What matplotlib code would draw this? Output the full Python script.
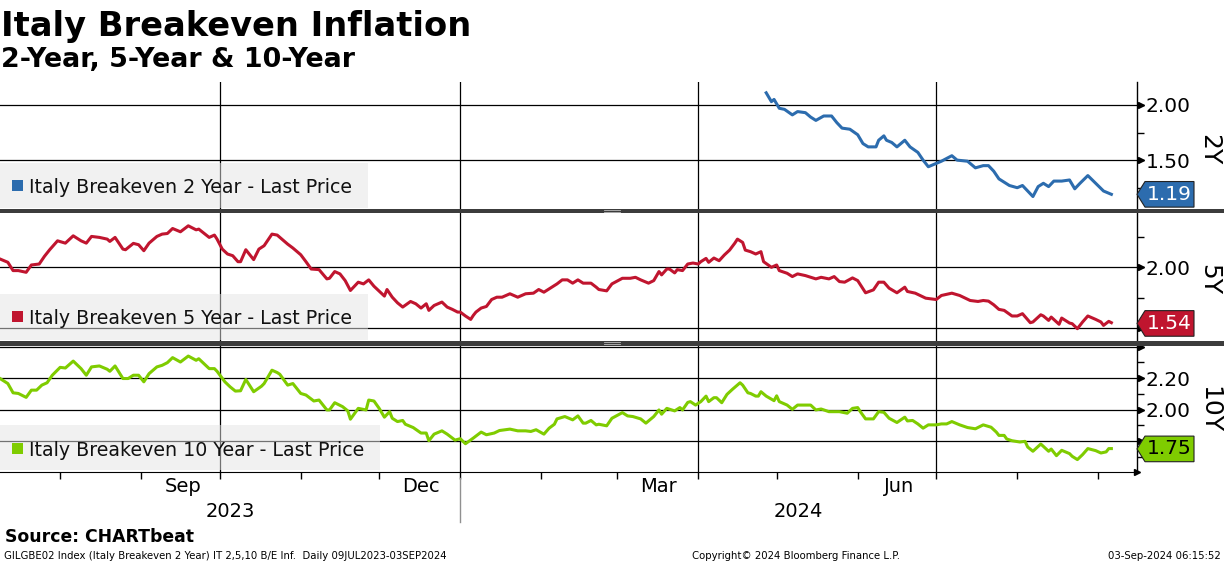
import matplotlib
matplotlib.use('Agg')
import matplotlib.pyplot as plt
import matplotlib.dates as mdates
import matplotlib.ticker as mticker
from matplotlib.transforms import offset_copy
from matplotlib.patches import Rectangle, Polygon
import pandas as pd

plt.rcParams['font.family'] = ['DejaVu Sans']

# day counts from the first observation, 9 Jul 2023
start = pd.Timestamp('2023-07-09')

days_2y = [293, 295, 296, 298, 300, 303, 305, 308, 310, 312, 315, 318, 320, 322, 325,
           328, 330, 332, 335, 336, 338, 339, 341, 343, 346, 348, 351, 353, 355, 357,
           360, 364, 366, 370, 373, 376, 378, 380, 382, 386, 389, 391, 393, 395, 397,
           399, 401, 403, 406, 409, 411, 413, 416, 419, 422, 425]
be_2y = [2.11, 2.03, 2.05, 1.97, 1.96, 1.91, 1.94, 1.93, 1.89, 1.86, 1.90, 1.90, 1.84, 1.79, 1.78,
         1.73, 1.65, 1.62, 1.62, 1.68, 1.72, 1.68, 1.66, 1.62, 1.68, 1.62, 1.57, 1.50, 1.44, 1.46,
         1.49, 1.54, 1.50, 1.49, 1.43, 1.45, 1.45, 1.40, 1.33, 1.27, 1.25, 1.27, 1.22, 1.17, 1.26,
         1.29, 1.26, 1.31, 1.31, 1.32, 1.24, 1.29, 1.36, 1.29, 1.22, 1.19]

days_5y = [0, 3, 5, 7, 10, 12, 15, 17, 19, 22, 25, 28, 31, 33, 35, 38, 41, 42, 44, 47,
           48, 51, 53, 55, 57, 60, 62, 64, 66, 69, 72, 75, 76, 80, 82, 83, 85, 87, 89, 91,
           92, 94, 97, 99, 101, 104, 106, 110, 112, 115, 117, 119, 122, 125, 126, 128, 130, 132, 134, 137,
           139, 141, 143, 145, 147, 148, 150, 152, 154, 157, 159, 161, 163, 164, 166, 169, 171, 173, 175, 176,
           178, 180, 181, 182, 184, 186, 188, 190, 192, 195, 198, 201, 204, 206, 208, 210, 213, 215, 217, 219,
           221, 223, 226, 228, 229, 232, 234, 238, 241, 243, 245, 248, 250, 252, 253, 255, 256, 258, 259, 261,
           263, 265, 267, 268, 270, 271, 273, 275, 277, 279, 281, 282, 284, 285, 287, 289, 291, 292, 295, 297,
           298, 301, 303, 305, 308, 312, 314, 317, 319, 321, 323, 326, 328, 331, 334, 336, 338, 340, 343, 346,
           347, 350, 354, 358, 360, 364, 367, 371, 374, 376, 378, 380, 382, 384, 387, 389, 391, 394, 395, 398,
           399, 401, 402, 405, 406, 409, 410, 412, 414, 416, 419, 421, 422, 424, 425]
be_5y = [2.068, 2.041, 1.973, 1.973, 1.959, 2.019, 2.027, 2.090, 2.144, 2.217,
         2.198, 2.258, 2.217, 2.198, 2.253, 2.245, 2.231, 2.212, 2.245, 2.149,
         2.144, 2.196, 2.185, 2.136, 2.198, 2.253, 2.272, 2.277, 2.318, 2.291,
         2.340, 2.307, 2.313, 2.245, 2.264, 2.231, 2.149, 2.109, 2.095, 2.046,
         2.046, 2.144, 2.063, 2.149, 2.177, 2.272, 2.264, 2.190, 2.158, 2.103,
         2.046, 1.986, 1.981, 1.905, 1.910, 1.965, 1.946, 1.891, 1.810, 1.878,
         1.864, 1.897, 1.845, 1.804, 1.764, 1.818, 1.755, 1.709, 1.674, 1.720,
         1.701, 1.666, 1.701, 1.647, 1.687, 1.715, 1.674, 1.655, 1.633, 1.633,
         1.601, 1.573, 1.606, 1.633, 1.666, 1.679, 1.736, 1.755, 1.755, 1.783,
         1.755, 1.783, 1.788, 1.818, 1.796, 1.823, 1.864, 1.897, 1.897, 1.870,
         1.897, 1.870, 1.870, 1.837, 1.818, 1.807, 1.864, 1.910, 1.910, 1.918,
         1.897, 1.870, 1.891, 1.965, 1.938, 1.986, 1.986, 1.954, 1.981, 1.973,
         2.027, 2.035, 2.027, 2.046, 2.073, 2.041, 2.076, 2.054, 2.101, 2.141,
         2.198, 2.231, 2.204, 2.141, 2.128, 2.109, 2.128, 2.046, 2.000, 2.019,
         1.973, 1.951, 1.924, 1.946, 1.932, 1.905, 1.918, 1.905, 1.924, 1.883,
         1.878, 1.913, 1.891, 1.791, 1.815, 1.878, 1.878, 1.829, 1.791, 1.837,
         1.802, 1.788, 1.747, 1.736, 1.769, 1.788, 1.769, 1.728, 1.720, 1.728,
         1.723, 1.693, 1.655, 1.647, 1.601, 1.601, 1.620, 1.546, 1.552, 1.611,
         1.601, 1.565, 1.592, 1.533, 1.584, 1.543, 1.538, 1.497, 1.552, 1.601,
         1.573, 1.552, 1.524, 1.557, 1.546]

days_10y = [0, 3, 5, 7, 10, 12, 14, 16, 18, 20, 23, 25, 28, 31, 33, 35, 38, 41, 42, 44,
            47, 49, 51, 53, 55, 57, 60, 62, 64, 66, 69, 72, 75, 76, 80, 82, 83, 86, 88, 90,
            92, 94, 97, 100, 101, 104, 106, 107, 110, 112, 115, 117, 120, 122, 125, 126, 128, 131, 133, 134,
            137, 140, 141, 143, 145, 147, 149, 150, 152, 154, 155, 158, 161, 163, 164, 166, 169, 171, 174, 176,
            178, 181, 184, 186, 189, 191, 195, 198, 201, 203, 205, 208, 210, 212, 213, 216, 219, 221, 223, 224,
            226, 228, 229, 232, 234, 238, 240, 242, 245, 247, 250, 252, 253, 255, 258, 260, 261, 263, 264, 266,
            268, 270, 271, 273, 274, 276, 278, 280, 283, 284, 286, 287, 289, 290, 291, 293, 296, 297, 298, 301,
            303, 305, 308, 310, 312, 314, 317, 321, 324, 326, 328, 329, 331, 334, 336, 338, 340, 343, 346, 347,
            349, 351, 353, 355, 358, 360, 362, 364, 367, 370, 373, 376, 379, 381, 382, 384, 385, 387, 390, 392,
            393, 395, 398, 399, 401, 402, 404, 406, 409, 410, 412, 414, 416, 419, 421, 423, 424, 425]
be_10y = [2.198, 2.166, 2.107, 2.103, 2.078, 2.124, 2.124, 2.156, 2.171, 2.219,
          2.269, 2.265, 2.309, 2.261, 2.219, 2.272, 2.278, 2.257, 2.244, 2.278,
          2.198, 2.198, 2.219, 2.219, 2.177, 2.229, 2.272, 2.282, 2.299, 2.331,
          2.303, 2.341, 2.314, 2.324, 2.261, 2.261, 2.244, 2.177, 2.145, 2.118,
          2.120, 2.192, 2.114, 2.149, 2.166, 2.251, 2.236, 2.225, 2.156, 2.166,
          2.103, 2.093, 2.055, 2.061, 1.998, 1.998, 2.044, 2.019, 1.992, 1.939,
          2.008, 1.998, 2.061, 2.055, 2.008, 1.952, 1.987, 1.945, 1.924, 1.931,
          1.907, 1.886, 1.851, 1.851, 1.802, 1.844, 1.865, 1.844, 1.806, 1.815,
          1.783, 1.819, 1.857, 1.840, 1.851, 1.867, 1.876, 1.865, 1.865, 1.861,
          1.872, 1.844, 1.882, 1.907, 1.941, 1.956, 1.935, 1.960, 1.914, 1.914,
          1.931, 1.903, 1.907, 1.897, 1.945, 1.981, 1.960, 1.956, 1.941, 1.914,
          1.956, 1.998, 1.971, 2.008, 1.992, 2.013, 1.998, 2.046, 2.051, 2.029,
          2.051, 2.086, 2.051, 2.076, 2.076, 2.044, 2.097, 2.128, 2.171, 2.156,
          2.107, 2.103, 2.086, 2.086, 2.114, 2.086, 2.057, 2.088, 2.051, 2.029,
          2.002, 2.029, 2.029, 2.029, 1.998, 2.004, 1.987, 1.987, 1.977, 2.008,
          2.013, 1.987, 1.941, 1.941, 1.987, 1.983, 1.945, 1.918, 1.952, 1.928,
          1.931, 1.909, 1.882, 1.903, 1.903, 1.909, 1.909, 1.924, 1.903, 1.886,
          1.878, 1.903, 1.888, 1.857, 1.836, 1.836, 1.813, 1.802, 1.794, 1.798,
          1.762, 1.735, 1.781, 1.766, 1.735, 1.749, 1.707, 1.741, 1.720, 1.703,
          1.682, 1.714, 1.752, 1.739, 1.724, 1.731, 1.752, 1.752]

names = ['Italy Breakeven 2 Year - Last Price',
         'Italy Breakeven 5 Year - Last Price',
         'Italy Breakeven 10 Year - Last Price']
short_names = ['2Y', '5Y', '10Y']
last_values = ['1.19', '1.54', '1.75']
colors = ['#2c6cae', '#c0152f', '#7fcc00']
tag_text = ['white', 'white', 'black']

W, H = 1224, 566
fig = plt.figure(figsize=(W / 100, H / 100), dpi=100)
fig.patch.set_facecolor('white')


def fx(x):
    return x / W


def fy(y):
    return 1 - y / H


# layout in pixels (top, bottom) and axis setup per panel
# (labels hidden behind the last-value tag are left blank, as on the terminal)
panels = [
    dict(days=days_2y, vals=be_2y, top=82, bot=209, ylim=(1.057, 2.208),
         major=[1.5, 2.0], labels=['1.50', '2.00'], minor=[1.25, 1.75],
         box=(163, 208, 368), base=193, name_y=150),
    dict(days=days_5y, vals=be_5y, top=213, bot=341, ylim=(1.396, 2.445),
         major=[1.5, 2.0], labels=['', '2.00'], minor=[1.75, 2.25],
         box=(294, 340, 368), base=324, name_y=279),
    dict(days=days_10y, vals=be_10y, top=346, bot=472, ylim=(1.603, 2.405),
         major=[1.8, 2.0, 2.2, 2.4], labels=['', '2.00', '2.20', ''], minor=[1.7, 1.9, 2.1, 2.3],
         box=(425, 470, 380), base=456, name_y=410),
]

x_end = start + pd.Timedelta(days=434.8)
axes = []
for i, p in enumerate(panels):
    ax = fig.add_axes([0, fy(p['bot']), fx(1137), (p['bot'] - p['top']) / H])
    dates = (start + pd.to_timedelta(p['days'], unit='D')).to_pydatetime()
    ax.plot(dates, p['vals'], color=colors[i], lw=2.2, zorder=3, solid_joinstyle='round')

    # little arrow heads on the major ticks of the right axis
    tr = offset_copy(ax.get_yaxis_transform(), fig=fig, x=4, y=0, units='dots')
    ax.plot([1] * len(p['major']), p['major'], ls='none', marker='>', ms=5,
            color='black', transform=tr, clip_on=False)

    ax.set_xlim(start, x_end)
    ax.set_ylim(*p['ylim'])
    for s in ['top', 'left', 'bottom']:
        ax.spines[s].set_visible(False)
    ax.spines['right'].set_color('black')
    ax.spines['right'].set_linewidth(1)

    ax.yaxis.tick_right()
    ax.set_yticks(p['major'], labels=p['labels'])
    ax.set_yticks(p['minor'], minor=True)
    ax.tick_params(axis='y', which='both', direction='out', length=5, width=1,
                   colors='black', labelsize=14.5, pad=1)

    ax.xaxis.set_major_locator(mdates.MonthLocator(bymonth=[1, 4, 7, 10]))
    ax.xaxis.set_minor_locator(mdates.MonthLocator())
    ax.xaxis.set_major_formatter(mticker.NullFormatter())
    ax.set_axisbelow(True)
    ax.grid(axis='both', which='major', color='black', lw=0.9)
    if i < 2:
        ax.tick_params(axis='x', which='both', length=0, labelbottom=False)
    else:
        ax.spines['bottom'].set_visible(True)
        ax.spines['bottom'].set_color('black')
        ax.tick_params(axis='x', which='both', direction='out', length=5, width=1, color='black')
        ax.plot([1], [0], marker='>', ms=5, color='black', transform=ax.transAxes, clip_on=False)
    axes.append(ax)

    # legend box
    y0, y1, bw = p['box']
    fig.add_artist(Rectangle((0, fy(y1)), fx(bw), (y1 - y0) / H, transform=fig.transFigure,
                             facecolor='#e4e4e4', alpha=0.5, edgecolor='none'))
    fig.add_artist(Rectangle((fx(12), fy(p['base'] - 2)), fx(11), 11 / H, transform=fig.transFigure,
                             facecolor=colors[i], edgecolor='none'))
    fig.text(fx(29), fy(p['base']), names[i], fontsize=13.7, color='#111111', va='baseline')

    # series name on the far right
    fig.text(fx(1209), fy(p['name_y']), short_names[i], rotation=270, fontsize=18,
             ha='center', va='center')

    # last value tag
    yc = ax.transData.transform((mdates.date2num(start), float(last_values[i])))[1] / H
    hh = 12.8 / H
    pts = [(fx(1137), yc), (fx(1145), yc + hh), (fx(1194), yc + hh),
           (fx(1194), yc - hh), (fx(1145), yc - hh)]
    fig.add_artist(Polygon(pts, closed=True, transform=fig.transFigure,
                           facecolor=colors[i], edgecolor='#222222', lw=0.8))
    fig.text(fx(1169), yc, last_values[i], fontsize=14.5, color=tag_text[i],
             ha='center', va='center')

# month / year labels below the last panel
ax3 = axes[2]
xt = ax3.get_xaxis_transform()
for m in ['2023-09-17', '2023-12-17', '2024-03-17', '2024-06-17']:
    ax3.text(mdates.date2num(pd.Timestamp(m)), -0.119, pd.Timestamp(m).strftime('%b'),
             transform=xt, ha='center', va='center', fontsize=14)
jan1 = mdates.date2num(pd.Timestamp('2024-01-01'))
x_lo, x_hi = ax3.get_xlim()
ax3.text((x_lo + jan1) / 2, -0.317, '2023', transform=xt, ha='center', va='center', fontsize=14)
ax3.text((jan1 + x_hi) / 2, -0.317, '2024', transform=xt, ha='center', va='center', fontsize=14)
ax3.plot([jan1, jan1], [-0.05, -0.4], transform=xt, clip_on=False, color='#909090', lw=1)

# dark separators between panels
for y0, y1 in [(209, 213), (341, 346)]:
    fig.add_artist(Rectangle((0, fy(y1)), 1, (y1 - y0) / H, transform=fig.transFigure,
                             facecolor='#3c3c3c', edgecolor='none'))
    for dy in [1.3, 2.7]:
        fig.add_artist(plt.Line2D([fx(604), fx(620)], [fy(y0 + dy)] * 2, transform=fig.transFigure,
                                  color='#bbbbbb', lw=0.6))

# titles and footer
fig.text(fx(1), fy(36), 'Italy Breakeven Inflation', fontsize=24.2, fontweight='bold', va='baseline')
fig.text(fx(1), fy(67), '2-Year, 5-Year & 10-Year', fontsize=19.4, fontweight='bold', va='baseline')
fig.text(fx(5), fy(537), 'Source: CHARTbeat', fontsize=12.4, fontweight='bold', va='center')
fig.text(fx(4), fy(556), 'GILGBE02 Index (Italy Breakeven 2 Year) IT 2,5,10 B/E Inf.  Daily 09JUL2023-03SEP2024',
         fontsize=7.3, va='center')
fig.text(fx(692), fy(556), 'Copyright\u00a9 2024 Bloomberg Finance L.P.', fontsize=7.3, va='center')
fig.text(fx(1221), fy(556), '03-Sep-2024 06:15:52', fontsize=7.3, va='center', ha='right')

fig.savefig('out.png', dpi=100)
